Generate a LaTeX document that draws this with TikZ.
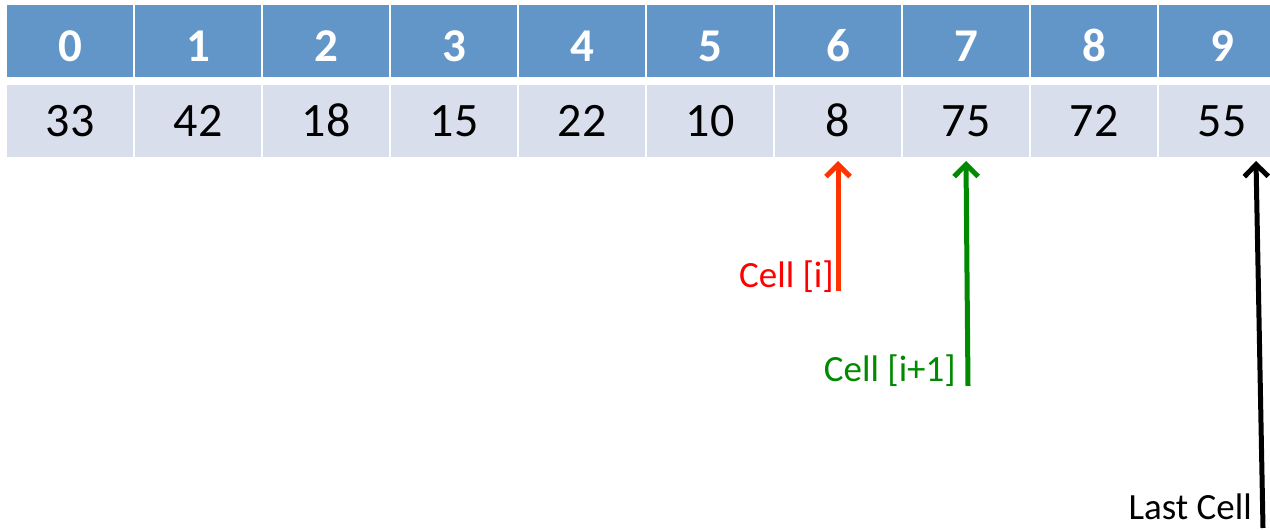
\documentclass[tikz,border=0pt]{standalone}
\usepackage{fontspec}
\setmainfont{Carlito}
\usetikzlibrary{arrows.meta,calc}
\definecolor{hdr}{HTML}{6295C8}
\definecolor{body}{HTML}{D9DEEC}
\definecolor{redarrow}{HTML}{FF3300}
\definecolor{redtext}{HTML}{FF0000}
\definecolor{greenc}{HTML}{008A00}
\tikzset{
  hcell/.style={fill=hdr, draw=none, minimum width=126pt, minimum height=72pt, inner sep=0pt},
  vcell/.style={fill=body, draw=none, minimum width=126pt, minimum height=72pt, inner sep=0pt},
  htext/.style={text=white, font=\fontsize{47}{50}\selectfont\bfseries, anchor=base, inner sep=0pt},
  vtext/.style={text=black, font=\fontsize{48}{50}\selectfont, anchor=base, inner sep=0pt},
  lbl/.style={font=\fontsize{37}{40}\selectfont, anchor=base east, inner sep=0pt},
  ptr/.style={line width=5pt, -{Straight Barb[length=12pt,width=24pt,line width=5pt]}},
}
\begin{document}
\begin{tikzpicture}[x=1pt,y=1pt]
\useasboundingbox (0,0) rectangle (1270,530);
\clip (0,0) rectangle (1270,530);
\fill[white] (0,0) rectangle (1270,530);
\foreach \i/\v in {0/33,1/42,2/18,3/15,4/22,5/10,6/8,7/75,8/72,9/55}{
  \node[hcell] (h\i) at ({70+128*\i},{530-41}) {};
  \node[vcell] (v\i) at ({70+128*\i},{530-121}) {};
  \node[htext] (ht\i) at ({70+128*\i},{530-62}) {\i};
  \node[vtext] (vt\i) at ({70+128*\i},{530-137}) {\v};
}
% pointer tips just below the value cells
\coordinate (tipR) at (838,{530-161});
\coordinate (tipG) at (966,{530-161});
\coordinate (tipK) at (1256,{530-161});
\coordinate (baseR) at (838,{530-291});
\coordinate (baseG) at (968,{530-386});
\coordinate (baseK) at (1263,{530-528});
\draw[ptr, redarrow] (baseR) -- (tipR);
\draw[ptr, greenc] (baseG) -- (tipG);
\draw[ptr, black] (baseK) -- (tipK);
\node[lbl, text=redtext] (lr) at (834,{530-288}) {Cell [i]};
\node[lbl, text=greenc] (lg) at (956,{530-382}) {Cell [i+1]};
\node[lbl, text=black] (lk) at (1252,{530-520}) {Last Cell};
\end{tikzpicture}
\end{document}
